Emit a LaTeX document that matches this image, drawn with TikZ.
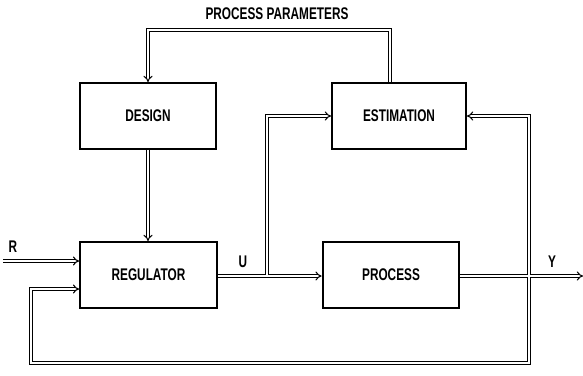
\documentclass[tikz,border=0pt]{standalone}
\usepackage{fontspec}
\usetikzlibrary{positioning, arrows.meta}
\newfontfamily\blockfont{Liberation Sans}[FakeStretch=0.7]

\tikzset{
  block/.style={draw, line width=1.4pt, inner sep=0pt, minimum width=3.42cm, minimum height=1.65cm, font=\blockfont\bfseries\fontsize{12}{14}\selectfont},
  lbl/.style={font=\blockfont\bfseries\fontsize{12}{14}\selectfont, inner sep=0pt},
  sig/.style={double, double distance=1.4pt, line width=0.75pt},
  sigarrow/.style={sig, -{Implies}},
  jn/.style={white, line width=1.4pt}
}

\begin{document}
\begin{tikzpicture}[x=0.025cm, y=-0.025cm]
\useasboundingbox (0,0) rectangle (583,375);

% blocks
\node[block] (des) at (148,116) {DESIGN};
\node[block, minimum width=3.35cm] (est) at (399,116) {ESTIMATION};
\node[block] (reg) at (148.5,275) {REGULATOR};
\node[block] (proc) at (391,275) {PROCESS};

% corners and branch points
\coordinate (pp1) at (390,30);
\coordinate (pp2) at (148,30);
\coordinate (ub) at (267,276);
\coordinate (yb) at (529,276);
\coordinate (yout) at (583,276);
\coordinate (fb1) at (529,363);
\coordinate (fb2) at (31,289);
\coordinate (rin) at (3,261);

% labels
\node[lbl] (ppl) at (277,14) {PROCESS PARAMETERS};
\node[lbl] (ul) at (243,262) {U};
\node[lbl] (yl) at (552,262) {Y};
\node[lbl] (rl) at (13,247) {R};

% parameters to design
\draw[sigarrow] (est.north -| pp1) -- (pp1) -- (pp2) -- (pp2 |- des.north);
\draw[sigarrow] (des.south) -- (des.south |- reg.north);

% branches to estimation
\draw[sigarrow] (ub) |- (est.west);
\draw[sigarrow] (yb) |- (est.east);

% feedback
\draw[sigarrow] (yb) -- (fb1) -| (fb2) -- (fb2 -| reg.west);

% main line
\draw[sigarrow] (rin) -- (rin -| reg.west);
\draw[sigarrow] (reg.east |- ub) -- (ub -| proc.west);
\draw[sigarrow] (proc.east |- yb) -- (yout);

% open the junctions
\draw[jn] (ub) -- ++(0,-3);
\draw[jn] (yb) ++(0,-3) -- ++(0,6);
\end{tikzpicture}
\end{document}
